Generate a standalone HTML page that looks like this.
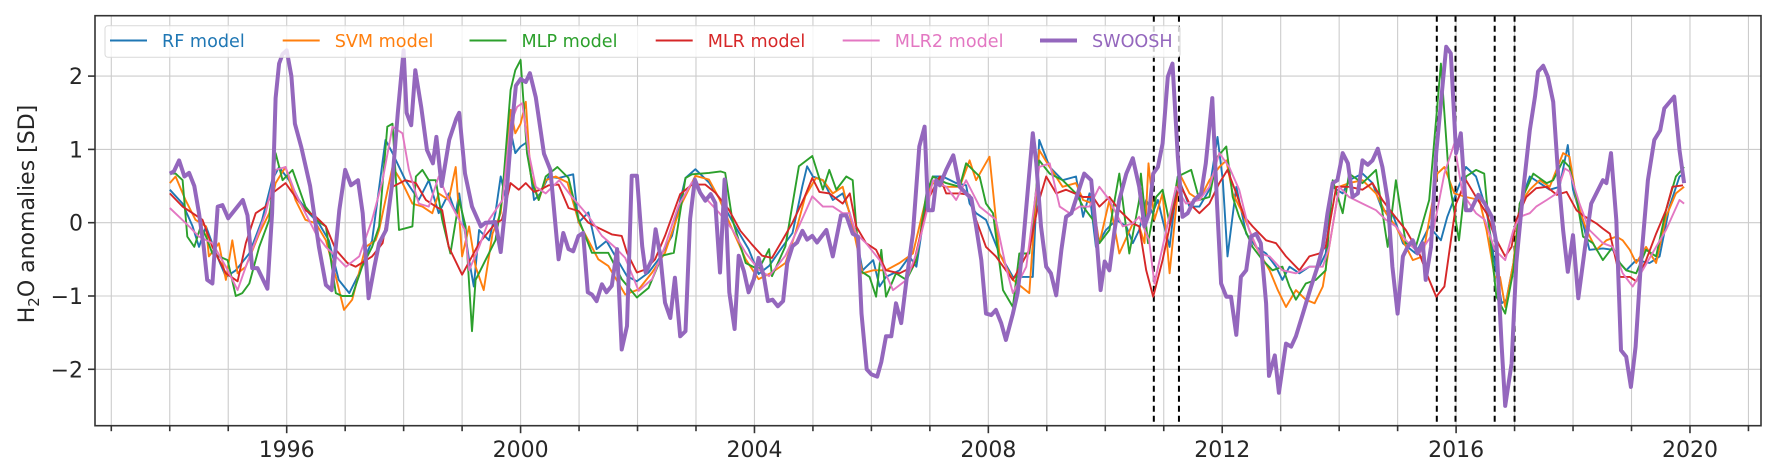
<!DOCTYPE html>
<html><head><meta charset="utf-8"><style>
html,body{margin:0;padding:0;background:#fff;}
svg{display:block;font-family:"DejaVu Sans","Liberation Sans",sans-serif;}
</style></head><body>
<svg id="chart" width="1778" height="473" viewBox="0 0 1778 473" xmlns="http://www.w3.org/2000/svg">
<rect x="0" y="0" width="1778" height="473" fill="#fff"/>
<g id="grid"></g>
<g id="events"></g>
<g id="series" clip-path="url(#clip)"></g>
<defs><clipPath id="clip"><rect x="95" y="15.7" width="1666" height="410"/></clipPath></defs>
<rect x="95" y="15.7" width="1666" height="410" fill="none" stroke="#333" stroke-width="1.6"/>
<g id="axes"></g>
<text transform="translate(34,214) rotate(-90)" text-anchor="middle" font-size="22" fill="#262626">H<tspan font-size="15" dy="5">2</tspan><tspan dy="-5">O anomalies [SD]</tspan></text>
<g id="legend"></g>
</svg>
<script>
const NS="http://www.w3.org/2000/svg";
// ---- data ----
const xTickYears=[1996,2000,2004,2008,2012,2016,2020];
const xTickLabels=["1996","2000","2004","2008","2012","2016","2020"];
const yTicks=[-2,-1,0,1,2];
const yTickLabels=["\u22122","\u22121","0","1","2"];
const eventYears=[2010.83,2011.26,2015.67,2015.99,2016.66,2017.0];
const seriesNames=["RF model","SVM model","MLP model","MLR model","MLR2 model","SWOOSH"];

const rfT=[1994.0,1994.22,1994.39,1994.5,1994.62,1994.79,1994.96,1995.13,1995.36,1995.58,1995.75,1995.87,1996.04,1996.21,1996.38,1996.55,1996.72,1996.89,1997.07,1997.24,1997.46,1997.69,1997.81,1998.03,1998.26,1998.43,1998.6,1998.77,1998.89,1998.95,1999.12,1999.2,1999.29,1999.46,1999.57,1999.66,1999.74,1999.83,1999.91,2000.0,2000.11,2000.23,2000.34,2000.48,2000.65,2000.9,2000.99,2001.16,2001.3,2001.47,2001.65,2001.82,2001.99,2002.19,2002.36,2002.59,2002.82,2002.99,2003.22,2003.45,2003.67,2003.9,2004.07,2004.25,2004.47,2004.65,2004.82,2004.9,2005.0,2005.17,2005.34,2005.51,2005.63,2005.74,2005.85,2006.03,2006.14,2006.25,2006.48,2006.65,2006.77,2006.94,2007.05,2007.22,2007.45,2007.62,2007.68,2007.79,2007.96,2008.19,2008.42,2008.53,2008.76,2008.87,2009.05,2009.27,2009.5,2009.62,2009.73,2009.84,2010.01,2010.19,2010.36,2010.47,2010.58,2010.7,2010.81,2010.9,2010.98,2011.1,2011.24,2011.44,2011.61,2011.78,2011.92,2012.01,2012.09,2012.24,2012.41,2012.58,2012.75,2012.92,2013.03,2013.15,2013.32,2013.49,2013.66,2013.77,2013.89,2014.06,2014.17,2014.4,2014.57,2014.74,2014.91,2015.09,2015.31,2015.54,2015.74,2015.85,2016.0,2016.17,2016.34,2016.52,2016.66,2016.78,2016.86,2016.98,2017.09,2017.26,2017.43,2017.6,2017.77,2017.91,2018.0,2018.17,2018.28,2018.51,2018.68,2018.8,2018.91,2019.08,2019.31,2019.48,2019.65,2019.82,2019.9];
const rfV=[0.45,0.26,-0.05,-0.33,-0.05,-0.42,-0.74,-0.65,-0.42,0.04,0.58,0.76,0.58,0.31,0.13,-0.01,-0.24,-0.78,-0.96,-0.69,-0.24,1.13,0.95,0.58,0.31,0.58,0.13,0.4,0.13,0.4,-0.51,-0.87,-0.1,-0.24,0.13,0.63,0.35,1.26,0.95,1.04,1.1,0.31,0.4,0.63,0.61,0.66,0.0,0.14,-0.36,-0.25,-0.5,-0.73,-0.8,-0.68,-0.5,-0.18,0.61,0.73,0.55,0.27,-0.05,-0.36,-0.7,-0.59,-0.34,-0.14,0.5,0.77,0.63,0.58,0.31,0.4,0.13,-0.19,-0.65,-0.51,-0.87,-0.74,-0.65,-0.46,-0.6,0.31,0.63,0.63,0.54,0.51,0.26,0.13,0.04,-0.42,-0.74,-0.74,-0.74,1.13,0.76,0.58,0.63,0.08,0.4,-0.33,-0.1,0.04,-0.05,-0.28,-0.1,0.31,0.13,0.31,0.04,-0.33,0.63,0.22,0.22,0.45,1.17,0.58,-0.46,0.49,-0.15,-0.33,-0.42,-0.6,-0.78,-0.6,-0.69,-0.6,-0.6,-0.42,0.49,0.4,0.58,0.67,0.54,0.17,0.13,-0.28,-0.42,-0.05,-0.24,0.08,0.4,0.76,0.63,0.17,-0.55,-1.1,-1.05,-0.55,0.26,0.63,0.54,0.45,0.49,1.06,0.45,-0.01,-0.37,-0.35,-0.37,-0.55,-0.65,-0.51,-0.55,-0.46,0.22,0.63,0.67];

const svmT=[1994.0,1994.1,1994.27,1994.44,1994.62,1994.67,1994.84,1994.96,1995.07,1995.16,1995.3,1995.53,1995.7,1995.81,1995.98,1996.15,1996.32,1996.5,1996.67,1996.84,1996.98,1997.12,1997.35,1997.52,1997.58,1997.81,1997.98,1998.15,1998.32,1998.49,1998.6,1998.77,1998.89,1999.0,1999.12,1999.23,1999.37,1999.52,1999.66,1999.83,1999.91,2000.0,2000.09,2000.17,2000.31,2000.43,2000.6,2000.8,2001.0,2001.33,2001.5,2001.79,2002.02,2002.25,2002.47,2002.76,2002.99,2003.22,2003.39,2003.62,2003.85,2004.07,2004.3,2004.53,2004.7,2004.87,2005.05,2005.17,2005.34,2005.51,2005.68,2005.85,2006.03,2006.25,2006.48,2006.71,2006.94,2007.05,2007.28,2007.51,2007.68,2007.79,2008.02,2008.19,2008.42,2008.7,2008.87,2009.05,2009.27,2009.5,2009.62,2009.79,2009.9,2010.07,2010.24,2010.47,2010.58,2010.67,2010.74,2010.84,2010.98,2011.1,2011.27,2011.44,2011.61,2011.78,2011.95,2012.07,2012.18,2012.35,2012.58,2012.81,2012.95,2013.09,2013.26,2013.43,2013.58,2013.72,2013.83,2014.0,2014.17,2014.4,2014.63,2014.8,2014.97,2015.26,2015.43,2015.6,2015.68,2015.8,2015.97,2016.17,2016.4,2016.52,2016.66,2016.75,2016.84,2016.98,2017.09,2017.26,2017.43,2017.6,2017.83,2017.94,2018.06,2018.23,2018.4,2018.57,2018.74,2018.85,2018.97,2019.08,2019.25,2019.42,2019.59,2019.76,2019.9];
const svmV=[0.54,0.63,0.31,0.04,-0.05,-0.46,-0.28,-0.78,-0.24,-0.69,-0.6,-0.15,0.13,0.54,0.76,0.31,0.04,-0.01,-0.24,-0.74,-1.19,-1.05,-0.33,-0.24,-0.1,0.76,0.54,0.26,0.22,0.13,0.4,0.31,0.76,-0.46,-0.05,-0.6,-0.92,-0.15,0.13,1.54,1.22,1.35,1.65,0.67,0.31,0.58,0.63,0.55,0.0,-0.5,-0.59,-0.98,-0.91,-0.68,-0.41,0.27,0.64,0.59,0.34,-0.09,-0.5,-0.77,-0.68,-0.55,-0.14,0.36,0.61,0.58,0.4,0.49,-0.05,-0.69,-0.65,-0.65,-0.55,-0.42,0.35,0.54,0.49,0.49,0.85,0.58,0.9,-0.42,-0.78,-0.96,0.99,0.76,0.49,0.54,0.31,0.26,-0.28,0.31,-0.42,-0.01,-0.05,-0.28,0.81,0.04,0.4,-0.69,0.67,0.4,0.31,0.58,0.76,0.85,0.4,0.13,-0.33,-0.65,-0.92,-1.15,-0.92,-1.05,-1.1,-0.87,-0.33,0.49,0.54,0.58,0.4,0.13,-0.05,-0.51,-0.46,0.31,0.67,0.76,0.4,0.35,0.31,-0.1,-0.74,-0.74,-1.15,-0.55,0.26,0.45,0.58,0.49,0.95,0.9,0.31,-0.1,-0.37,-0.24,-0.19,-0.24,-0.37,-0.55,-0.33,-0.55,0.08,0.4,0.49];

const mlpT=[1994.0,1994.1,1994.22,1994.3,1994.42,1994.53,1994.62,1994.73,1994.84,1994.99,1995.13,1995.24,1995.36,1995.53,1995.7,1995.81,1995.93,1996.1,1996.32,1996.5,1996.67,1996.84,1996.95,1997.12,1997.29,1997.46,1997.58,1997.72,1997.81,1997.92,1998.15,1998.21,1998.32,1998.43,1998.55,1998.66,1998.8,1998.95,1999.06,1999.17,1999.23,1999.4,1999.57,1999.68,1999.83,1999.91,2000.0,2000.11,2000.2,2000.31,2000.43,2000.63,2000.82,2000.99,2001.22,2001.5,2001.73,2001.99,2002.19,2002.42,2002.62,2002.82,2002.93,2003.22,2003.42,2003.5,2003.62,2003.85,2004.07,2004.25,2004.3,2004.53,2004.76,2004.99,2005.17,2005.28,2005.4,2005.57,2005.68,2005.8,2005.97,2006.08,2006.17,2006.25,2006.42,2006.6,2006.77,2006.94,2007.05,2007.28,2007.51,2007.62,2007.85,2007.96,2008.08,2008.25,2008.42,2008.53,2008.7,2008.87,2009.05,2009.27,2009.5,2009.62,2009.79,2009.9,2010.07,2010.24,2010.41,2010.58,2010.61,2010.73,2010.87,2010.98,2011.1,2011.24,2011.47,2011.61,2011.78,2011.92,2012.07,2012.18,2012.29,2012.52,2012.69,2012.86,2013.03,2013.15,2013.26,2013.43,2013.6,2013.77,2013.89,2014.06,2014.17,2014.4,2014.63,2014.83,2014.97,2015.14,2015.31,2015.54,2015.74,2015.88,2016.05,2016.17,2016.34,2016.48,2016.58,2016.69,2016.84,2016.98,2017.09,2017.32,2017.55,2017.66,2017.83,2017.94,2018.06,2018.17,2018.34,2018.51,2018.68,2018.8,2018.91,2019.08,2019.25,2019.42,2019.59,2019.76,2019.9];
const mlpV=[0.67,0.67,0.58,-0.19,-0.33,-0.05,-0.19,-0.42,-0.46,-0.51,-1.0,-0.96,-0.83,-0.33,0.04,0.95,0.58,0.72,0.22,0.04,-0.05,-0.96,-1.0,-1.0,-0.6,-0.33,-0.05,1.31,1.35,-0.1,-0.05,0.63,0.72,0.58,0.58,0.04,-0.42,0.31,-0.05,-1.48,-0.78,-0.51,-0.24,0.31,1.81,2.08,2.22,0.95,0.54,0.31,0.63,0.76,0.61,0.05,-0.41,-0.41,-0.77,-1.02,-0.89,-0.45,-0.41,0.61,0.66,0.68,0.7,0.68,0.05,-0.55,-0.64,-0.36,-0.73,-0.32,0.77,0.91,0.45,0.72,0.45,0.63,0.58,-0.65,-0.74,-1.01,-0.37,-1.01,-0.69,-0.78,-0.51,0.4,0.63,0.54,0.49,0.81,0.63,0.26,0.13,-0.92,-1.15,-0.42,-0.42,0.85,0.67,0.58,0.4,0.22,0.04,-0.28,-0.1,0.67,-0.42,0.31,0.67,-0.28,0.35,0.45,-0.01,0.63,0.72,0.31,0.35,0.9,1.04,0.35,0.08,-0.33,-0.51,-0.65,-0.6,-0.87,-1.05,-0.83,-0.78,-0.65,0.58,0.13,0.67,0.54,0.72,-0.33,0.58,-0.28,-0.33,0.31,2.17,0.58,-0.24,0.63,0.72,0.67,-0.19,-1.01,-1.24,-0.65,0.26,0.67,0.54,0.58,0.85,0.76,0.35,-0.19,-0.28,-0.51,-0.33,-0.55,-0.65,-0.69,-0.37,-0.46,0.17,0.63,0.76];

const mlrT=[1994.0,1994.22,1994.39,1994.56,1994.73,1994.96,1995.16,1995.3,1995.47,1995.64,1995.75,1995.98,1996.15,1996.32,1996.5,1996.67,1996.84,1997.04,1997.18,1997.46,1997.64,1997.81,1998.03,1998.21,1998.38,1998.55,1998.66,1998.77,1999.0,1999.17,1999.29,1999.57,1999.68,1999.83,1999.97,2000.09,2000.23,2000.34,2000.48,2000.65,2000.82,2000.99,2001.16,2001.33,2001.56,2001.73,2001.82,2001.99,2002.13,2002.3,2002.47,2002.73,2002.93,2003.16,2003.33,2003.56,2003.76,2003.96,2004.13,2004.3,2004.47,2004.65,2004.85,2004.99,2005.11,2005.28,2005.51,2005.63,2005.74,2005.91,2006.08,2006.25,2006.48,2006.71,2006.99,2007.17,2007.28,2007.51,2007.68,2007.79,2007.96,2008.13,2008.42,2008.7,2008.87,2008.99,2009.16,2009.33,2009.62,2009.79,2009.9,2010.07,2010.24,2010.47,2010.58,2010.7,2010.82,2010.98,2011.15,2011.27,2011.44,2011.61,2011.78,2011.95,2012.09,2012.24,2012.38,2012.52,2012.75,2012.92,2013.09,2013.32,2013.49,2013.66,2013.77,2013.95,2014.17,2014.4,2014.57,2014.74,2014.91,2015.14,2015.37,2015.54,2015.66,2015.8,2016.0,2016.17,2016.34,2016.52,2016.66,2016.84,2016.95,2017.03,2017.2,2017.37,2017.55,2017.72,2017.89,2018.06,2018.17,2018.4,2018.51,2018.63,2018.8,2018.97,2019.08,2019.25,2019.42,2019.59,2019.7,2019.88];
const mlrV=[0.4,0.22,0.13,0.04,-0.33,-0.69,-0.8,-0.28,0.13,0.22,0.4,0.54,0.35,0.17,0.08,-0.05,-0.37,-0.55,-0.6,-0.46,-0.28,0.49,0.58,0.54,0.31,0.22,0.17,-0.33,-0.71,-0.46,-0.28,-0.01,0.04,0.54,0.45,0.54,0.42,0.45,0.51,0.52,0.2,0.16,0.0,-0.07,-0.16,-0.18,-0.41,-0.68,-0.64,-0.5,-0.18,0.39,0.52,0.52,0.41,0.18,-0.11,-0.3,-0.45,-0.48,-0.25,0.0,0.34,0.61,0.42,0.4,0.26,0.4,-0.05,-0.28,-0.37,-0.65,-0.69,-0.6,0.35,0.63,0.4,0.4,0.38,0.04,-0.33,-0.46,-0.78,-0.37,0.31,0.63,0.4,0.45,0.35,0.35,0.22,0.35,0.17,-0.01,-0.05,-0.65,-1.01,-0.51,0.13,0.54,0.26,0.13,0.26,0.54,0.72,0.4,0.08,-0.05,-0.24,-0.28,-0.46,-0.65,-0.46,-0.42,-0.33,0.49,0.49,0.45,0.54,0.31,0.13,-0.1,-0.42,-0.78,-1.01,-0.87,0.26,0.58,0.35,0.13,-0.19,-0.46,-0.33,0.04,0.35,0.47,0.49,0.38,0.42,0.17,0.1,-0.01,-0.08,-0.15,-0.74,-0.74,-0.8,-0.51,-0.15,0.17,0.49,0.51];

const mlr2T=[1994.0,1994.16,1994.33,1994.5,1994.73,1994.96,1995.16,1995.3,1995.47,1995.64,1995.81,1995.98,1996.15,1996.32,1996.5,1996.67,1996.84,1997.01,1997.24,1997.46,1997.64,1997.81,1997.98,1998.09,1998.26,1998.43,1998.6,1998.77,1998.95,1999.05,1999.12,1999.29,1999.46,1999.69,1999.83,1999.94,2000.03,2000.14,2000.26,2000.43,2000.66,2000.87,2001.16,2001.39,2001.62,2001.79,2002.02,2002.25,2002.47,2002.7,2002.93,2003.16,2003.39,2003.62,2003.85,2004.07,2004.25,2004.53,2004.76,2004.99,2005.17,2005.34,2005.51,2005.63,2005.74,2005.91,2006.14,2006.37,2006.6,2006.77,2006.94,2007.05,2007.28,2007.45,2007.62,2007.85,2008.13,2008.3,2008.42,2008.65,2008.87,2009.05,2009.22,2009.39,2009.56,2009.73,2009.9,2010.07,2010.3,2010.47,2010.58,2010.75,2010.84,2010.98,2011.21,2011.38,2011.61,2011.78,2011.95,2012.12,2012.29,2012.46,2012.64,2012.81,2013.03,2013.26,2013.49,2013.72,2013.83,2014.0,2014.17,2014.4,2014.63,2014.8,2014.97,2015.14,2015.37,2015.6,2015.8,2015.97,2016.11,2016.34,2016.49,2016.66,2016.84,2016.98,2017.09,2017.26,2017.37,2017.55,2017.72,2017.86,2017.94,2018.11,2018.28,2018.51,2018.68,2018.85,2019.02,2019.19,2019.42,2019.59,2019.82,2019.9];
const mlr2V=[0.2,0.08,-0.05,-0.19,-0.28,-0.6,-0.92,-0.6,-0.24,0.13,0.72,0.76,0.4,0.13,-0.15,-0.33,-0.46,-0.6,-0.46,0.04,0.58,1.31,1.22,0.72,0.26,0.22,0.63,0.31,0.04,-0.1,-0.65,-0.33,0.04,0.31,1.35,1.58,1.63,0.95,0.49,0.4,0.58,0.36,0.09,-0.18,-0.34,-0.48,-0.93,-0.77,-0.32,0.23,0.55,0.34,0.14,-0.09,-0.41,-0.64,-0.73,-0.45,-0.05,0.36,0.22,0.22,0.13,0.13,-0.15,-0.28,-0.51,-0.92,-0.78,-0.42,0.13,0.58,0.49,0.31,0.58,0.22,0.04,-0.6,-0.96,-0.6,0.76,0.81,0.22,0.13,0.22,0.22,0.49,0.31,-0.05,-0.01,0.08,-0.24,-0.83,-0.33,0.49,0.26,0.31,0.49,0.95,0.76,0.45,-0.1,-0.42,-0.46,-0.65,-0.69,-0.6,-0.6,-0.33,0.49,0.35,0.26,0.17,0.04,-0.05,-0.24,-0.42,-0.15,0.67,1.08,0.4,0.13,0.04,-0.37,-0.51,-0.1,0.08,0.13,0.22,0.31,0.4,0.74,0.7,0.26,-0.1,-0.28,-0.33,-0.69,-0.87,-0.65,-0.33,-0.1,0.31,0.26];

const swT=[1994.0,1994.07,1994.16,1994.25,1994.33,1994.42,1994.5,1994.58,1994.64,1994.73,1994.82,1994.9,1995.0,1995.25,1995.33,1995.41,1995.5,1995.67,1995.75,1995.81,1995.87,1995.93,1996.0,1996.08,1996.14,1996.25,1996.4,1996.55,1996.67,1996.77,1996.9,1997.0,1997.1,1997.22,1997.3,1997.4,1997.5,1997.58,1997.7,1997.8,1997.9,1998.0,1998.05,1998.13,1998.2,1998.3,1998.4,1998.5,1998.56,1998.65,1998.78,1998.9,1998.95,1999.05,1999.17,1999.32,1999.4,1999.57,1999.66,1999.75,1999.85,1999.92,2000.0,2000.09,2000.16,2000.26,2000.4,2000.51,2000.65,2000.73,2000.82,2000.9,2000.99,2001.07,2001.15,2001.22,2001.3,2001.39,2001.47,2001.56,2001.65,2001.73,2001.82,2001.9,2001.99,2002.08,2002.14,2002.25,2002.31,2002.39,2002.47,2002.56,2002.64,2002.73,2002.82,2002.9,2002.98,2003.07,2003.16,2003.25,2003.33,2003.41,2003.49,2003.57,2003.66,2003.73,2003.82,2003.9,2003.99,2004.07,2004.16,2004.23,2004.31,2004.4,2004.49,2004.56,2004.65,2004.73,2004.82,2004.9,2004.99,2005.07,2005.23,2005.34,2005.48,2005.57,2005.68,2005.77,2005.83,2005.92,2006.0,2006.1,2006.17,2006.25,2006.34,2006.42,2006.51,2006.6,2006.71,2006.82,2006.91,2006.97,2007.05,2007.11,2007.17,2007.28,2007.4,2007.51,2007.62,2007.71,2007.79,2007.88,2007.96,2008.05,2008.13,2008.22,2008.3,2008.42,2008.5,2008.59,2008.67,2008.76,2008.82,2008.9,2008.99,2009.07,2009.16,2009.25,2009.33,2009.42,2009.53,2009.64,2009.76,2009.84,2009.92,2009.99,2010.07,2010.16,2010.24,2010.36,2010.47,2010.58,2010.67,2010.75,2010.82,2010.9,2010.98,2011.07,2011.15,2011.24,2011.32,2011.41,2011.52,2011.64,2011.72,2011.83,2011.91,2011.98,2012.07,2012.15,2012.24,2012.32,2012.41,2012.49,2012.58,2012.66,2012.75,2012.8,2012.9,2012.97,2013.09,2013.18,2013.26,2013.38,2013.52,2013.63,2013.72,2013.8,2013.89,2013.97,2014.06,2014.15,2014.23,2014.32,2014.4,2014.49,2014.57,2014.66,2014.74,2014.83,2014.91,2015.0,2015.09,2015.17,2015.26,2015.34,2015.43,2015.48,2015.57,2015.66,2015.74,2015.83,2015.91,2016.0,2016.08,2016.17,2016.25,2016.38,2016.49,2016.61,2016.69,2016.78,2016.84,2016.95,2017.03,2017.15,2017.26,2017.35,2017.4,2017.49,2017.57,2017.66,2017.74,2017.83,2017.91,2018.0,2018.09,2018.2,2018.31,2018.43,2018.51,2018.57,2018.65,2018.74,2018.82,2018.91,2018.99,2019.07,2019.16,2019.28,2019.39,2019.49,2019.56,2019.73,2019.82,2019.9];
const swV=[0.67,0.7,0.85,0.63,0.68,0.5,0.13,-0.33,-0.78,-0.83,0.22,0.24,0.06,0.31,0.1,-0.62,-0.62,-0.9,0.13,1.7,2.17,2.3,2.35,2.0,1.35,1.03,0.5,-0.33,-0.85,-0.92,0.17,0.72,0.51,0.58,0.13,-1.03,-0.6,-0.28,-0.1,0.5,1.5,2.35,1.5,1.33,2.08,1.58,0.99,0.81,1.17,0.5,1.13,1.42,1.5,0.67,0.22,-0.05,0.0,0.01,-0.4,0.3,1.3,1.87,1.96,1.92,2.04,1.71,0.94,0.72,-0.5,-0.14,-0.36,-0.39,-0.18,-0.14,-0.95,-0.98,-1.07,-0.84,-0.95,-0.86,-0.36,-1.73,-1.41,0.64,0.64,-0.32,-0.68,-0.5,-0.09,-0.45,-1.09,-1.3,-0.75,-1.55,-1.48,0.05,0.59,0.41,0.3,0.39,0.27,-0.68,0.59,-0.95,-1.45,-0.45,-0.66,-0.95,-0.77,-0.48,-0.73,-1.07,-1.05,-1.14,-1.07,-0.55,-0.32,-0.27,-0.11,-0.23,-0.18,-0.27,-0.1,-0.46,0.1,0.1,-0.15,-0.19,-1.24,-2.0,-2.07,-2.1,-1.9,-1.55,-1.55,-1.1,-1.37,-0.78,-0.15,1.04,1.31,0.17,0.17,0.58,0.51,0.72,0.92,0.49,0.4,0.33,-0.05,-0.51,-1.24,-1.26,-1.19,-1.37,-1.6,-1.24,-0.96,-0.33,0.4,1.22,0.81,-0.05,-0.6,-0.69,-0.99,-0.37,0.08,0.13,0.4,0.67,0.58,-0.1,-0.92,-0.53,-0.65,-0.1,0.31,0.67,0.88,0.49,-0.05,0.13,0.67,0.76,1.08,1.99,2.17,0.9,0.08,0.13,0.31,0.4,0.81,1.7,0.26,-0.83,-1.01,-1.01,-1.53,-0.74,-0.65,-0.19,-0.15,-0.28,-1.1,-2.09,-1.81,-2.32,-1.65,-1.69,-1.55,-1.24,-0.87,-0.6,-0.33,0.13,0.54,0.58,0.95,0.81,0.35,0.4,0.85,0.79,0.85,1.01,0.76,0.31,-0.6,-1.24,-0.46,-0.33,-0.24,-0.42,-0.28,-0.78,-0.33,0.95,1.63,2.4,2.31,0.95,1.22,0.17,0.17,0.38,0.26,0.08,-0.28,-1.69,-2.5,-1.92,-0.55,0.45,1.26,1.72,2.06,2.14,1.99,1.65,0.72,-0.1,-0.67,-0.17,-1.03,-0.37,0.26,0.45,0.58,0.54,0.95,0.04,-1.74,-1.83,-2.24,-1.69,-0.55,0.58,1.13,1.26,1.56,1.72,0.99,0.54];

// ---- axes ----
const X0=286.7, PXY=58.47, Y0=222.7, PYV=73.3;
function xS(yr){return X0+(yr-1996)*PXY;}
function yS(v){return Y0-v*PYV;}
function mk(tag,attrs,parent){const e=document.createElementNS(NS,tag);for(const k in attrs)e.setAttribute(k,attrs[k]);parent.appendChild(e);return e;}

const grid=document.getElementById('grid');
for(let yr=1993;yr<=2021;yr++){
  const l=mk('line',{x1:xS(yr),x2:xS(yr),y1:15.7,y2:425.7,stroke:'#cccccc','stroke-width':1.1},grid);
  
  
}
yTicks.forEach(v=>{
  const l=mk('line',{x1:95,x2:1761,y1:yS(v),y2:yS(v),stroke:'#cccccc','stroke-width':1.1},grid);
  
  
});

const axes=document.getElementById('axes');
for(let yr=1993;yr<=2021;yr++){
  const major=xTickYears.indexOf(yr)>=0;
  const t=mk('line',{x1:xS(yr),x2:xS(yr),y1:425.7,y2:425.7+(major?7.5:5.5),stroke:'#333','stroke-width':1.6},axes);
  
  
}
xTickYears.forEach((yr,i)=>{
  const t=mk('text',{x:xS(yr),y:457,'text-anchor':'middle','font-size':22,fill:'#262626'},axes);
  t.textContent=xTickLabels[i];
  
  
});
yTicks.forEach((v,i)=>{
  const t=mk('line',{x1:88,x2:95,y1:yS(v),y2:yS(v),stroke:'#333','stroke-width':1.6},axes);
  
  
  const tx=mk('text',{x:83,y:yS(v)+8,'text-anchor':'end','font-size':22,fill:'#262626'},axes);
  tx.textContent=yTickLabels[i];
  
  
});

const ev=document.getElementById('events');
eventYears.forEach(yr=>{
  const l=mk('line',{x1:xS(yr),x2:xS(yr),y1:15.7,y2:425.7,stroke:'#000','stroke-width':2,'stroke-dasharray':'6,4'},ev);
  
  
});

// ---- series ----
const colors=['#1f77b4','#ff7f0e','#2ca02c','#d62728','#e377c2','#9467bd'];
const widths=[1.9,1.9,1.9,1.9,1.9,4];
const allT=[rfT,svmT,mlpT,mlrT,mlr2T,swT];
const allV=[rfV,svmV,mlpV,mlrV,mlr2V,swV];
const slugs=['rf-model-line','svm-model-line','mlp-model-line','mlr-model-line','mlr2-model-line','swoosh-line'];
const sg=document.getElementById('series');
allT.forEach((T,s)=>{
  const V=allV[s];
  const idx=T.map((_,i)=>i).sort((a,b)=>T[a]-T[b]);
  const n=Math.min(T.length,V.length);
  const pts=idx.filter(i=>i<n).map(i=>xS(T[i]).toFixed(1)+','+yS(V[i]).toFixed(1)).join(' ');
  const p=mk('polyline',{points:pts,fill:'none',stroke:colors[s],'stroke-width':widths[s],'stroke-linejoin':'round'},sg);
  
  
});

// ---- legend ----
const lg=document.getElementById('legend');
const box=mk('rect',{x:105,y:25.7,width:1075,height:31.6,rx:3,fill:'#ffffff','fill-opacity':0.8,stroke:'#d9d9d9','stroke-width':1},lg);


const legX=[110,282.7,469.5,655.7,842.7,1040];
seriesNames.forEach((nm,i)=>{
  const g=mk('g',{},lg);
  
  
  mk('line',{x1:legX[i],x2:legX[i]+37,y1:40.5,y2:40.5,stroke:colors[i],'stroke-width':widths[i]},g);
  const t=mk('text',{x:legX[i]+52,y:46.8,'font-size':17.6,fill:colors[i]},g);
  t.textContent=nm;
});
</script>
</body></html>
